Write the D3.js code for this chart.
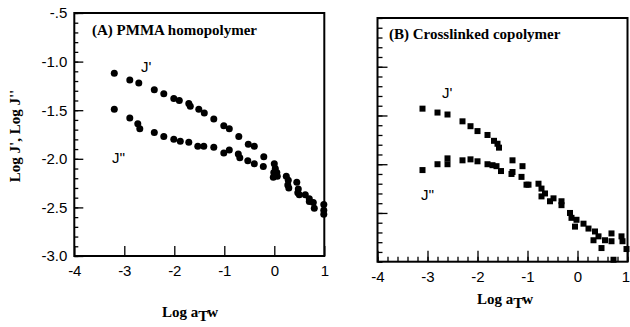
<!DOCTYPE html>
<html>
<head>
<meta charset="utf-8">
<script src="https://cdn.jsdelivr.net/npm/d3@7/dist/d3.min.js"></script>
<style>
body { margin: 0; background: #fff; }
.tick text { font-family: "Liberation Sans", Arial, sans-serif; font-size: 15px; fill: #000; }
.tick line { stroke: #000; stroke-width: 1.3; }
</style>
</head>
<body>
<script>
// x axis: Log aT w
const xTicks = [-4, -3, -2, -1, 0, 1];
const xLabels = ["-4", "-3", "-2", "-1", "0", "1"];

// panel A y axis
const yTicksA = [-0.5, -1.0, -1.5, -2.0, -2.5, -3.0];
const yLabelsA = ["-.5", "-1.0", "-1.5", "-2.0", "-2.5", "-3.0"];

// (A) PMMA homopolymer: [log aT w, log J]
const jpA = [[-3.2,-1.12],[-2.89,-1.19],[-2.71,-1.22],[-2.4,-1.29],[-2.21,-1.33],[-2.01,-1.38],[-1.9,-1.40],
  [-1.71,-1.43],[-1.68,-1.46],[-1.51,-1.49],[-1.4,-1.53],[-1.21,-1.59],[-1.01,-1.66],[-0.9,-1.69],
  [-0.71,-1.77],[-0.52,-1.85],[-0.4,-1.87],[-0.21,-1.98],[0.0,-2.05],[0.02,-2.1],[0.05,-2.14],
  [0.24,-2.18],[0.28,-2.22],[0.45,-2.24],[0.48,-2.31],[0.62,-2.37],[0.7,-2.41],[0.78,-2.45],[0.99,-2.47]];
const jppA = [[-3.2,-1.49],[-2.89,-1.58],[-2.73,-1.64],[-2.69,-1.69],[-2.4,-1.73],[-2.21,-1.77],[-2.01,-1.80],
  [-1.88,-1.82],[-1.71,-1.83],[-1.53,-1.87],[-1.41,-1.87],[-1.21,-1.88],[-1.01,-1.94],[-0.9,-1.91],
  [-0.72,-1.95],[-0.69,-1.99],[-0.53,-2.02],[-0.4,-2.05],[-0.22,-2.08],[-0.01,-2.14],[-0.02,-2.19],
  [0.06,-2.18],[0.27,-2.27],[0.29,-2.30],[0.47,-2.35],[0.5,-2.37],[0.7,-2.44],[0.8,-2.51],[0.99,-2.53],[0.99,-2.57]];

// (B) Crosslinked copolymer
const jpB = [[-3.10,-1.93],[-2.80,-1.97],[-2.60,-1.99],[-2.30,-2.06],[-2.14,-2.11],[-2.00,-2.16],[-1.80,-2.20],
  [-1.67,-2.26],[-1.60,-2.29],[-1.57,-2.33],[-1.30,-2.46],[-1.10,-2.52],[-0.98,-2.71],[-0.78,-2.70],
  [-0.65,-2.80],[-0.48,-2.85],[-0.32,-2.88],[-0.15,-3.00],[-0.02,-3.07],[0.12,-3.11],[0.22,-3.16],
  [0.35,-3.19],[0.42,-3.24],[0.55,-3.28],[0.68,-3.21],[0.88,-3.24]];
const jppB = [[-3.10,-2.56],[-2.80,-2.50],[-2.60,-2.44],[-2.60,-2.50],[-2.30,-2.46],[-2.14,-2.45],[-2.00,-2.47],
  [-1.80,-2.50],[-1.70,-2.51],[-1.62,-2.52],[-1.53,-2.57],[-1.32,-2.60],[-1.30,-2.58],[-1.12,-2.63],
  [-1.02,-2.71],[-0.72,-2.75],[-0.72,-2.83],[-0.55,-2.88],[-0.32,-2.92],[-0.12,-3.05],[-0.05,-3.14],
  [0.32,-3.28],[0.48,-3.36],[0.68,-3.29],[0.72,-3.48],[0.90,-3.29],[0.98,-3.37]];

const svg = d3.select("body").append("svg")
    .attr("width", 630)
    .attr("height", 327);

function drawPanel(p) {
  const x = d3.scaleLinear().domain([-4, 1]).range([p.left, p.right]);
  const y = d3.scaleLinear().domain(p.yDomain).range([p.bottom, p.top]);
  const g = svg.append("g");

  // minor y ticks every 0.1
  g.append("g")
    .attr("transform", "translate(" + p.left + ",0)")
    .call(d3.axisLeft(y).tickValues(d3.range(Math.round(p.yDomain[0]*10), Math.round(p.yDomain[1]*10)+1).map(d => d/10))
      .tickSize(-p.yMinor).tickFormat(""))
    .select(".domain").remove();

  // major y ticks
  const yAxis = d3.axisLeft(y).tickValues(p.yTicks).tickSize(-p.yMajor).tickPadding(7);
  if (p.yLabels) yAxis.tickFormat((d, i) => p.yLabels[i]); else yAxis.tickFormat("");
  g.append("g")
    .attr("transform", "translate(" + p.left + ",0)")
    .call(yAxis)
    .select(".domain").remove();

  if (p.xMinor) {
    g.append("g")
      .attr("transform", "translate(0," + p.bottom + ")")
      .call(d3.axisBottom(x).tickValues(d3.range(-20, 6).map(d => d/5)).tickSize(-p.xMinor).tickFormat(""))
      .select(".domain").remove();
  }

  const xa = g.append("g")
    .attr("transform", "translate(0," + p.bottom + ")")
    .call(d3.axisBottom(x).tickValues(xTicks).tickSize(-p.xMajor).tickPadding(p.xPad).tickFormat((d, i) => xLabels[i]));
  xa.select(".domain").remove();
  // last label sits at the very edge of the page on the right panel
  if (p.lastShift) xa.selectAll(".tick text").filter(d => d === 1).attr("dx", p.lastShift);

  // frame
  g.append("rect")
    .attr("x", p.left).attr("y", p.top)
    .attr("width", p.right - p.left).attr("height", p.bottom - p.top)
    .attr("fill", "none").attr("stroke", "#000").attr("stroke-width", 2);

  // data
  if (p.square) {
    const s = 6;
    [p.jp, p.jpp].forEach(series => {
      g.append("g").selectAll("rect.pt")
        .data(series)
        .enter().append("rect")
        .attr("x", d => x(d[0]) - s/2)
        .attr("y", d => y(d[1]) - s/2)
        .attr("width", s).attr("height", s)
        .attr("fill", "#000");
    });
  } else {
    [p.jp, p.jpp].forEach(series => {
      g.append("g").selectAll("circle")
        .data(series)
        .enter().append("circle")
        .attr("cx", d => x(d[0]))
        .attr("cy", d => y(d[1]))
        .attr("r", 3.5)
        .attr("fill", "#000");
    });
  }

  g.append("text")
    .attr("x", p.titleX).attr("y", p.titleY)
    .style("font-family", "'Liberation Serif', 'Times New Roman', serif")
    .style("font-weight", "bold").style("font-size", "15px")
    .text(p.title);

  // series labels
  g.append("text").attr("x", p.jpLab[0]).attr("y", p.jpLab[1])
    .style("font-family", "'Liberation Sans', Arial, sans-serif").style("font-size", "15px")
    .text("J'");
  g.append("text").attr("x", p.jppLab[0]).attr("y", p.jppLab[1])
    .style("font-family", "'Liberation Sans', Arial, sans-serif").style("font-size", "15px")
    .text("J''");

  // x title: Log aT w
  const xt = g.append("text")
    .attr("x", p.xTitle[0]).attr("y", p.xTitle[1])
    .attr("text-anchor", "middle")
    .style("font-family", "'Liberation Serif', 'Times New Roman', serif")
    .style("font-weight", "bold").style("font-size", "15px");
  xt.append("tspan").text("Log a");
  xt.append("tspan").attr("dy", 4).text("T");
  xt.append("tspan").attr("dy", -4).text("w");
}

drawPanel({
  left: 74.3, right: 324.3, top: 13, bottom: 256,
  yDomain: [-3.0, -0.5], yTicks: yTicksA, yLabels: yLabelsA,
  yMajor: 9, yMinor: 4, xMajor: 10, xMinor: 0, xPad: 9,
  jp: jpA, jpp: jppA, square: false,
  title: "(A) PMMA homopolymer", titleX: 92, titleY: 35,
  jpLab: [141, 72], jppLab: [112, 163],
  xTitle: [190, 317]
});

drawPanel({
  left: 377.5, right: 627.5, top: 18, bottom: 261.7,
  yDomain: [-3.5, -1.0], yTicks: [-3.0, -2.5, -2.0, -1.5],
  yMajor: 10, yMinor: 5, xMajor: 11, xMinor: 5, xPad: 10, lastShift: -2,
  jp: jpB, jpp: jppB, square: true,
  title: "(B) Crosslinked copolymer", titleX: 389, titleY: 39,
  jpLab: [442, 98], jppLab: [421, 200],
  xTitle: [505, 304]
});

// y axis title
svg.append("text")
  .attr("transform", "translate(20,136) rotate(-90)")
  .attr("text-anchor", "middle")
  .style("font-family", "'Liberation Serif', 'Times New Roman', serif")
  .style("font-weight", "bold").style("font-size", "15px")
  .text("Log J', Log J''");
</script>
</body>
</html>
